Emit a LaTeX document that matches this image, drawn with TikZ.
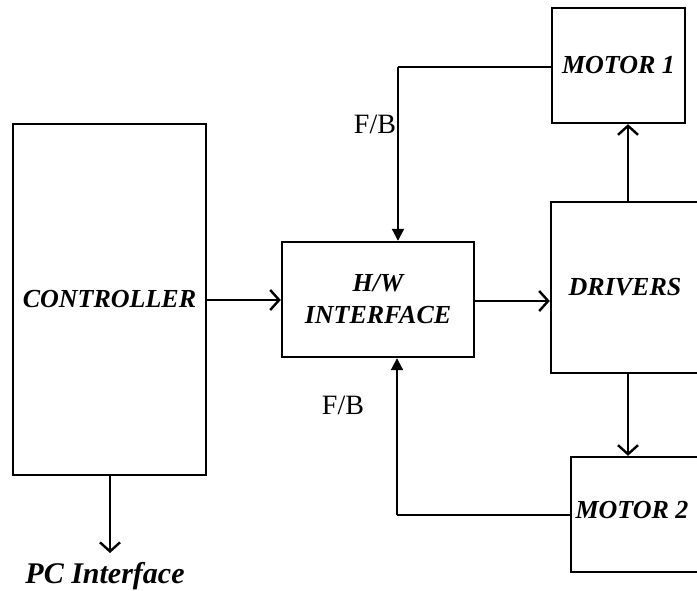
\documentclass[tikz,border=0pt]{standalone}
\usepackage{fontspec}
\setmainfont{Liberation Serif}
\usetikzlibrary{arrows.meta}
\begin{document}
\begin{tikzpicture}[x=1pt,y=-1pt,
  blk/.style={draw, line width=2.4pt, inner sep=0pt, minimum width=#1},
  lbl/.style={font=\fontsize{26}{32}\selectfont\bfseries\itshape, align=center, inner sep=0pt},
  fb/.style={font=\fontsize{28}{32}\selectfont, inner sep=0pt},
  mainarr/.style={line width=2.4pt, -{Straight Barb[length=9pt,width=20pt]}},
  fbarr/.style={line width=2pt, -{Triangle[length=12pt,width=12pt]}},
  fbline/.style={line width=1.3pt}]
\useasboundingbox (0,0) rectangle (697,591);
\node[blk=193pt, minimum height=351pt, lbl] (ctrl) at (109.5,299.5) {CONTROLLER};
\node[blk=192pt, minimum height=115pt, lbl] (hw) at (378,299.5) {H/W\\INTERFACE};
\node[blk=220pt, minimum height=171pt] (drv) at (661,287.5) {};
\node[lbl] (drvt) at (625,287) {DRIVERS};
\node[blk=133pt, minimum height=115pt, lbl] (m1) at (618.5,65.5) {MOTOR 1};
\node[blk=220pt, minimum height=115pt] (m2) at (681,514.5) {};
\node[lbl] (m2t) at (632,510) {MOTOR 2};
\node[font=\fontsize{30}{34}\selectfont\bfseries\itshape, inner sep=0pt] (pc) at (105,576) {PC Interface};
\node[fb] (fb1) at (375,124) {F/B};
\node[fb] (fb2) at (343,405) {F/B};
\coordinate (pcend) at (110,553);
\coordinate (c1) at (398,67);
\coordinate (c2) at (397,515);
% main arrows
\draw[mainarr] (ctrl.east |- 0,300) -- (hw.west |- 0,300);
\draw[mainarr] (hw.east |- 0,301) -- (drv.west |- 0,301);
\draw[mainarr] (628,0 |- drv.north) -- (628,0 |- m1.south);
\draw[mainarr] (628,0 |- drv.south) -- (628,0 |- m2.north);
\draw[mainarr] (110,0 |- ctrl.south) -- (pcend);
% feedback
\draw[fbline] (m1.west |- c1) -- (c1);
\draw[fbarr] (c1) -- (c1 |- hw.north);
\draw[fbline] (m2.west |- c2) -- (c2);
\draw[fbarr] (c2) -- (c2 |- hw.south);
\end{tikzpicture}
\end{document}
